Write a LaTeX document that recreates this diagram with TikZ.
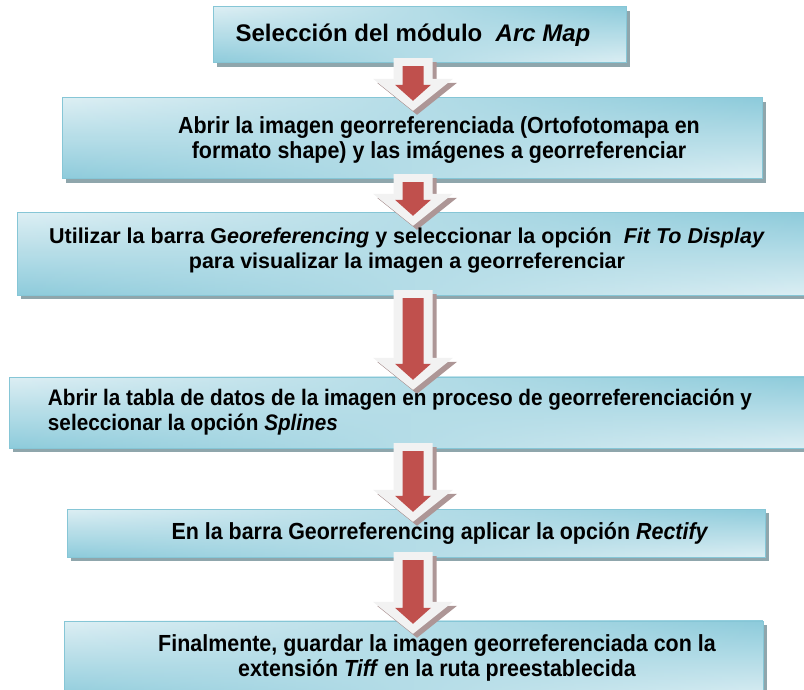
\documentclass[tikz,border=0pt]{standalone}
\usepackage{fontspec}
\setmainfont{Liberation Sans}
\newfontfamily\estrecha[FakeStretch=0.92]{Liberation Sans}
\usetikzlibrary{calc,fadings}

\definecolor{celeste}{HTML}{DDEFF4}
\definecolor{turquesa}{HTML}{8DCBDB}
\definecolor{borde}{HTML}{86C6D6}
\definecolor{sombra}{HTML}{8FA6AC}
\definecolor{rojo}{HTML}{C0504D}
\definecolor{blanco}{HTML}{F2F2F2}
\definecolor{sombraflecha}{HTML}{AD9696}

\tikzfading[name=haciaderecha, left color=transparent!100, right color=transparent!0]

\tikzset{
  caja/.style={top color=celeste, bottom color=turquesa,
    preaction={fill=sombra, transform canvas={shift={(4pt,-4pt)}}},
    postaction={top color=turquesa, bottom color=celeste, path fading=haciaderecha},
    postaction={draw=borde, line width=1pt}},
  titulo/.style={font=\bfseries\fontsize{24}{28}\selectfont},
  estrecho/.style={font=\estrecha\bfseries\fontsize{23.3}{25}\selectfont, align=center},
  ancho/.style={font=\bfseries\fontsize{21.5}{25}\selectfont, align=center},
}

% flecha de bloque entre dos cajas
\newcommand{\flecha}[2]{%
  \foreach \estilo/\dx/\dy in {sombraflecha/4/-4, blanco/0/0}{
    \fill[\estilo, transform canvas={shift={(\dx pt,\dy pt)}}]
      let \p1=(#1.south), \p2=(#2.north), \p3=(eje) in
      (\x3-19.5pt,\y1+5pt) -- (\x3+19.5pt,\y1+5pt) -- (\x3+19.5pt,\y2+19pt)
      -- (\x3+40pt,\y2+19pt) -- (\x3,\y2-13pt) -- (\x3-40pt,\y2+19pt)
      -- (\x3-19.5pt,\y2+19pt) -- cycle;}
  \fill[rojo] let \p1=(#1.south), \p2=(#2.north), \p3=(eje) in
    (\x3-10.5pt,\y1-3pt) -- (\x3+10.5pt,\y1-3pt) -- (\x3+10.5pt,\y2+13pt)
    -- (\x3+18pt,\y2+13pt) -- (\x3,\y2-3pt) -- (\x3-18pt,\y2+13pt)
    -- (\x3-10.5pt,\y2+13pt) -- cycle;
}

\begin{document}
\begin{tikzpicture}[x=1pt,y=-1pt]
  \useasboundingbox (0,0) rectangle (804,690);
  \clip (0,0) rectangle (804,690);
  \coordinate (eje) at (413,0);

  % cajas
  \node[caja, minimum width=413pt, minimum height=56pt] (seleccion) at (419.5,35) {};
  \node[caja, minimum width=700pt, minimum height=81pt] (abrir) at (412,138.5) {};
  \node[caja, minimum width=795pt, minimum height=82pt] (barra) at (414.5,254) {};
  \node[caja, minimum width=803pt, minimum height=71pt] (tabla) at (410.5,412.5) {};
  \node[caja, minimum width=698pt, minimum height=48pt] (rectificar) at (416,533) {};
  \node[caja, minimum width=699pt, minimum height=79pt] (guardar) at (413.5,660.5) {};

  % flechas
  \flecha{seleccion}{abrir}
  \flecha{abrir}{barra}
  \flecha{barra}{tabla}
  \flecha{tabla}{rectificar}
  \flecha{rectificar}{guardar}

  % textos
  \node[titulo] (t1) at (413,35) {Selección del módulo \ \textit{Arc Map}};
  \node[estrecho] (t2) at (439,140) {Abrir la imagen georreferenciada (Ortofotomapa en\\formato shape) y las imágenes a georreferenciar};
  \node[ancho] (t3) at (407,250) {Utilizar la barra G\textit{eoreferencing} y seleccionar la opción \ \textit{Fit To Display}\\para visualizar la imagen a georreferenciar};
  \node[estrecho, font=\estrecha\bfseries\fontsize{22.5}{25}\selectfont, align=left] (t4) at (400,412) {Abrir la tabla de datos de la imagen en proceso de georreferenciación y\\seleccionar la opción \textit{Splines}};
  \node[estrecho] (t5) at (440,533) {En la barra Georreferencing aplicar la opción \textit{Rectify}};
  \node[estrecho] (t6) at (437,658) {Finalmente, guardar la imagen georreferenciada con la\\extensión \textit{Tiff} en la ruta preestablecida};
\end{tikzpicture}
\end{document}
